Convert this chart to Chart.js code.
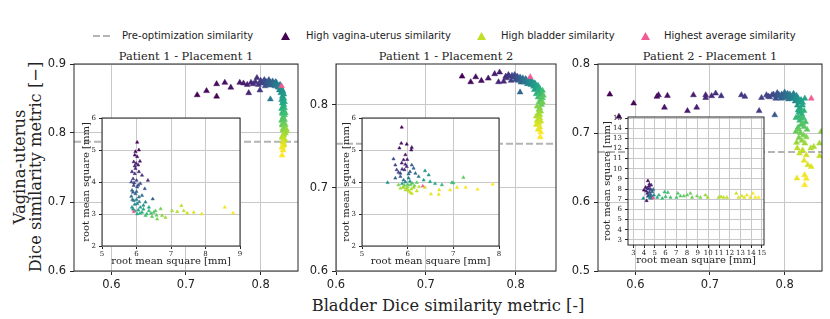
<!DOCTYPE html>
<html>
<head>
<meta charset="utf-8">
<title>Dice similarity</title>
<script src="https://cdn.jsdelivr.net/npm/chart.js@4.4.1/dist/chart.umd.min.js"></script>
<style>
  body { margin: 0; background: #fff; }
  #fig { position: relative; width: 830px; height: 319px; overflow: hidden; background: #fff; color: #222; }
  #fig canvas { position: absolute; }
  .lbl { position: absolute; white-space: nowrap; }
  .serif { font-family: "DejaVu Serif", serif; }
  .sans { font-family: "DejaVu Sans", sans-serif; }
  .title { font-size: 11.4px; line-height: 12px; top: 50px; transform: translateX(-50%); }
  .leg { font-size: 10px; line-height: 12px; top: 30px; }
  .legsym { position: absolute; }
</style>
</head>
<body>
<div id="fig">
  <svg class="legsym" style="left:93px;top:33px" width="20" height="6"><line x1="0" y1="3" x2="20" y2="3" stroke="#b4b4b4" stroke-width="2" stroke-dasharray="7,3"/></svg>
  <div class="lbl sans leg" style="left:122px">Pre-optimization similarity</div>
  <svg class="legsym" style="left:281px;top:32px" width="9" height="8"><polygon points="4.5,0 9,8 0,8" fill="#440154"/></svg>
  <div class="lbl sans leg" style="left:306px">High vagina-uterus similarity</div>
  <svg class="legsym" style="left:477px;top:32px" width="9" height="8"><polygon points="4.5,0 9,8 0,8" fill="#c0df25"/></svg>
  <div class="lbl sans leg" style="left:501px">High bladder similarity</div>
  <svg class="legsym" style="left:641px;top:32px" width="9" height="8"><polygon points="4.5,0 9,8 0,8" fill="#f25c95"/></svg>
  <div class="lbl sans leg" style="left:664px">Highest average similarity</div>

  <div class="lbl serif title" style="left:186px">Patient 1 - Placement 1</div>
  <div class="lbl serif title" style="left:446px">Patient 1 - Placement 2</div>
  <div class="lbl serif title" style="left:710px">Patient 2 - Placement 1</div>

  <div class="lbl serif" style="left:-92px;top:151px;width:240px;text-align:center;font-size:16.3px;line-height:16px;transform:rotate(-90deg)">Vagina-uterus<br>Dice similarity metric [−]</div>
  <div class="lbl serif" style="left:448px;top:297px;transform:translateX(-50%);font-size:16.3px;line-height:18px">Bladder Dice similarity metric [-]</div>
</div>
<script>
// ---- data ----
var p1XTicks = [0.6, 0.7, 0.8];
var p1YTicks = [0.6, 0.7, 0.8, 0.9];
var p1Pre = 0.7875;
var p1Best = [0.828, 0.868];
var p1Points = [
  [0.715,0.855],[0.741,0.853],[0.7275,0.861],[0.741,0.871],[0.752,0.873],[0.76,0.866],[0.772,0.873],
  [0.777,0.872],[0.782,0.870],[0.784,0.858],[0.787,0.873],[0.790,0.871],[0.795,0.880],[0.793,0.874],
  [0.797,0.870],[0.799,0.862],[0.800,0.876],[0.801,0.873],[0.803,0.872],[0.804,0.875],[0.805,0.877],
  [0.806,0.868],[0.807,0.872],[0.808,0.874],[0.809,0.870],[0.810,0.871],[0.811,0.877],[0.812,0.874],
  [0.813,0.873],[0.814,0.869],[0.815,0.872],[0.816,0.875],[0.817,0.870],[0.818,0.872],[0.819,0.868],
  [0.820,0.874],[0.821,0.873],[0.822,0.870],[0.813,0.849],[0.823,0.867],[0.824,0.866],[0.825,0.869],
  [0.826,0.870],[0.825,0.862],[0.827,0.865],[0.828,0.864],[0.827,0.858],[0.829,0.861],[0.830,0.860],
  [0.829,0.853],[0.831,0.856],[0.828,0.848],[0.831,0.850],[0.830,0.846],[0.829,0.843],[0.832,0.845],
  [0.831,0.841],[0.830,0.838],[0.828,0.835],[0.832,0.836],[0.831,0.832],[0.829,0.830],[0.829,0.828],
  [0.833,0.829],[0.832,0.826],[0.830,0.823],[0.830,0.821],[0.828,0.818],[0.832,0.819],[0.831,0.815],
  [0.829,0.813],[0.829,0.811],[0.833,0.812],[0.832,0.808],[0.830,0.806],[0.830,0.804],[0.834,0.806],
  [0.833,0.800],[0.835,0.803],[0.831,0.799],[0.831,0.797],[0.829,0.795],[0.829,0.793],[0.832,0.791],
  [0.832,0.790],[0.830,0.788],[0.830,0.786],[0.831,0.784],[0.831,0.782],[0.829,0.780],[0.829,0.779],
  [0.830,0.775],[0.8287,0.7676]
];

var p2XTicks = [0.6, 0.7, 0.8];
var p2YTicks = [0.6, 0.7, 0.8];
var p2Pre = 0.753;
var p2Best = [0.8163, 0.8333];
var p2Points = [
  [0.7404,0.8341],[0.750,0.8273],[0.7556,0.8333],[0.7619,0.8289],[0.7696,0.8317],[0.7767,0.837],
  [0.7822,0.839],[0.781,0.8273],[0.7867,0.828],[0.789,0.834],[0.790,0.832],[0.792,0.836],[0.793,0.834],
  [0.795,0.829],[0.796,0.835],[0.798,0.833],[0.799,0.836],[0.800,0.830],[0.801,0.833],[0.802,0.834],
  [0.803,0.829],[0.804,0.831],[0.805,0.833],[0.806,0.827],[0.805,0.815],[0.807,0.830],[0.808,0.832],
  [0.809,0.827],[0.810,0.828],[0.811,0.831],[0.812,0.830],[0.813,0.825],[0.814,0.826],[0.815,0.830],
  [0.816,0.829],[0.817,0.824],[0.818,0.828],[0.819,0.827],[0.820,0.822],[0.821,0.826],[0.822,0.825],
  [0.823,0.821],[0.821,0.818],[0.824,0.820],[0.825,0.823],[0.826,0.816],[0.827,0.819],[0.823,0.813],
  [0.827,0.812],[0.829,0.814],[0.830,0.817],[0.825,0.809],[0.828,0.806],[0.830,0.808],[0.831,0.811],
  [0.826,0.803],[0.829,0.800],[0.830,0.803],[0.827,0.796],[0.824,0.798],[0.826,0.794],[0.828,0.792],
  [0.825,0.789],[0.827,0.788],[0.823,0.786],[0.827,0.784],[0.824,0.781],[0.828,0.780],[0.826,0.778],
  [0.823,0.776],[0.827,0.773],[0.825,0.770],[0.828,0.767],[0.8274,0.761]
];

var p3XTicks = [0.6, 0.7, 0.8];
var p3YTicks = [0.5, 0.6, 0.7, 0.8];
var p3Pre = 0.6725;
var p3Best = [0.8356, 0.750];
var p3Points = [
  [0.5658,0.756],[0.578,0.7237],[0.5978,0.743],[0.6289,0.7527],[0.631,0.755],[0.643,0.754],[0.639,0.737],
  [0.6698,0.732],[0.6778,0.755],[0.6822,0.737],[0.6942,0.755],[0.6942,0.751],[0.7022,0.7536],[0.7076,0.7575],
  [0.715,0.7536],[0.742,0.755],[0.7467,0.7527],[0.7658,0.732],[0.769,0.751],[0.7756,0.755],[0.778,0.753],
  [0.780,0.752],[0.783,0.755],[0.785,0.756],[0.788,0.750],[0.789,0.754],[0.790,0.758],[0.7867,0.726],
  [0.792,0.756],[0.793,0.753],[0.795,0.750],[0.796,0.756],[0.797,0.753],[0.798,0.751],[0.800,0.759],
  [0.801,0.756],[0.802,0.752],[0.803,0.754],[0.804,0.757],[0.805,0.749],[0.806,0.753],[0.807,0.756],
  [0.808,0.750],[0.810,0.752],[0.811,0.755],[0.812,0.757],[0.813,0.750],[0.814,0.746],[0.815,0.752],
  [0.816,0.754],[0.817,0.748],[0.818,0.750],[0.819,0.745],[0.820,0.744],[0.817,0.740],[0.821,0.747],
  [0.822,0.748],[0.824,0.744],[0.827,0.750],[0.821,0.736],[0.824,0.740],[0.818,0.733],[0.819,0.730],
  [0.822,0.731],[0.823,0.727],[0.826,0.732],[0.815,0.722],[0.818,0.724],[0.820,0.718],[0.822,0.721],
  [0.825,0.722],[0.828,0.716],[0.822,0.712],[0.818,0.708],[0.824,0.714],[0.826,0.709],[0.830,0.705],
  [0.815,0.702],[0.819,0.705],[0.821,0.700],[0.825,0.697],[0.819,0.693],[0.829,0.694],[0.849,0.702],
  [0.823,0.689],[0.816,0.686],[0.827,0.685],[0.8467,0.685],[0.839,0.680],[0.835,0.678],[0.8169,0.678],
  [0.824,0.675],[0.8467,0.6667],[0.82,0.6705],[0.829,0.668],[0.831,0.6536],[0.8356,0.651],[0.826,0.660],
  [0.8164,0.6343],[0.8267,0.639],[0.829,0.634],[0.8267,0.6246]
];

// insets: [rms bladder, rms vagina-uterus, colour weight]
var i1XTicks = [5, 6, 7, 8, 9];
var i1YTicks = [2, 3, 4, 5, 6];
var i1Best = [5.92, 3.07];
var i1Points = [
  [6.02,5.24,0.0],[5.97,4.95,0.02],[6.07,5.0,0.02],[5.95,4.84,0.04],[6.02,4.79,0.05],[5.92,4.63,0.06],
  [5.99,4.58,0.07],[6.05,4.53,0.08],[5.97,4.42,0.1],[5.87,4.32,0.12],[5.95,4.26,0.13],[6.07,4.32,0.12],
  [6.16,4.21,0.14],[6.33,4.05,0.1],[5.85,4.0,0.2],[5.92,3.89,0.22],[6.02,3.84,0.25],[6.11,3.95,0.22],
  [6.24,3.79,0.28],[5.87,3.74,0.3],[5.97,3.63,0.33],[5.85,3.55,0.36],[6.07,3.53,0.37],[6.16,3.58,0.36],
  [6.47,3.47,0.3],[5.92,3.42,0.42],[6.02,3.32,0.45],[6.26,3.37,0.45],[5.87,3.21,0.5],[6.11,3.21,0.55],
  [6.36,3.21,0.58],[6.02,3.0,0.6],[6.16,3.05,0.62],[5.95,3.1,0.55],[6.36,3.1,0.66],[6.26,2.95,0.7],
  [6.5,3.05,0.72],[6.55,3.1,0.74],[6.6,2.84,0.8],[6.70,3.16,0.78],[6.74,2.95,0.82],[6.84,2.89,0.85],
  [7.03,3.1,0.86],[7.18,3.07,0.88],[7.3,3.26,0.9],[7.37,3.1,0.9],[7.47,3.03,0.92],[7.66,3.05,0.94],
  [7.89,3.0,0.96],[8.56,3.21,0.98],[8.8,3.03,1.0],
  [5.9,4.1,0.16],[6.0,4.05,0.18],[5.93,3.97,0.2],[6.05,3.9,0.24],[5.9,3.68,0.3],[6.0,3.7,0.32],
  [5.88,3.45,0.4],[6.0,3.45,0.42],[5.95,3.3,0.46],[6.08,3.38,0.44],[5.9,3.15,0.52],[6.05,3.12,0.58],
  [6.2,3.15,0.6],[6.1,3.02,0.64],[6.3,3.0,0.68],[6.42,3.02,0.7],[6.45,2.92,0.74],[6.58,2.96,0.76],
  [6.2,3.27,0.5],[5.95,4.5,0.09],[6.1,4.65,0.06]
];

var i2XTicks = [5, 6, 7, 8];
var i2YTicks = [2, 3, 4, 5, 6];
var i2Best = [6.33, 3.87];
var i2Points = [
  [5.87,5.71,0.0],[5.86,5.21,0.02],[5.98,5.18,0.03],[5.82,5.06,0.04],[6.08,5.0,0.04],[6.09,5.08,0.03],
  [5.95,4.85,0.05],[5.91,4.69,0.07],[5.99,4.70,0.06],[5.87,4.59,0.08],[5.98,4.48,0.1],[5.93,4.38,0.12],
  [5.69,4.72,0.25],[5.73,4.53,0.22],[5.76,4.38,0.2],[5.84,4.27,0.18],[6.09,4.53,0.3],[6.13,4.43,0.32],
  [6.05,4.32,0.28],[6.17,4.27,0.33],[6.24,4.17,0.38],[5.73,4.12,0.3],[5.84,4.17,0.28],[5.91,4.06,0.4],
  [6.02,4.12,0.42],[5.56,3.98,0.5],[6.38,4.35,0.5],[6.46,4.22,0.52],[6.35,4.06,0.55],[6.49,4.01,0.6],
  [6.6,3.95,0.62],[6.75,3.91,0.65],[6.97,3.98,0.68],[7.0,3.97,0.7],[7.22,4.14,0.75],[5.80,3.91,0.8],
  [5.91,3.85,0.82],[5.98,3.8,0.85],[6.06,3.91,0.78],[6.13,3.83,0.86],[6.2,3.98,0.75],[5.84,3.8,0.88],
  [6.02,3.73,0.88],[6.09,3.64,0.9],[6.2,3.72,0.92],[6.38,3.83,0.94],[6.51,3.62,0.96],[6.68,3.61,0.97],
  [6.69,3.75,0.96],[6.93,3.75,0.98],[7.08,3.83,0.97],[7.27,3.83,0.99],[7.53,3.77,1.0],[7.86,3.93,1.0],
  [5.95,4.0,0.45],[6.05,4.02,0.5],[5.88,3.95,0.55],[6.0,3.92,0.7],[6.1,3.96,0.72],[5.93,3.9,0.8],
  [6.0,3.85,0.84],[6.08,3.78,0.88],[5.95,3.75,0.9],[6.15,3.88,0.8],[5.9,3.83,0.86],[6.05,3.68,0.92],
  [6.25,3.85,0.9],[5.88,4.4,0.15],[5.95,4.55,0.1],[6.02,4.25,0.35],[5.8,4.3,0.22]
];

var i3XTicks = [3, 4, 5, 6, 7, 8, 9, 10, 11, 12, 13, 14, 15];
var i3YTicks = [3, 4, 5, 6, 7, 8, 9, 10, 11, 12, 13, 14, 15];
var i3Best = [4.86, 7.12];
var i3Points = [
  [4.36,8.82,0.0],[3.99,7.90,0.02],[4.15,8.17,0.03],[4.46,8.30,0.05],[4.30,7.58,0.08],[4.24,6.86,0.05],
  [4.55,8.03,0.1],[4.67,8.39,0.12],[4.61,7.25,0.3],[4.77,7.74,0.32],[4.46,7.41,0.28],[4.86,7.97,0.35],
  [3.93,7.09,0.5],[4.67,7.09,0.45],[4.92,7.41,0.48],[5.23,7.18,0.62],[5.39,7.41,0.64],[5.70,7.09,0.66],
  [6.01,7.25,0.68],[6.22,7.67,0.7],[5.91,7.71,0.68],[6.47,7.18,0.7],[7.03,7.18,0.72],[7.16,7.58,0.73],
  [7.40,7.32,0.74],[7.71,7.32,0.75],[8.02,7.41,0.76],[8.33,7.58,0.77],[8.49,7.18,0.78],[8.95,7.32,0.8],
  [9.26,7.18,0.8],[9.73,7.41,0.84],[9.95,7.18,0.85],[10.97,7.18,0.88],[11.19,7.25,0.89],[11.43,7.18,0.9],
  [11.74,7.18,0.91],[12.61,7.58,0.93],[12.83,7.18,0.94],[13.14,7.32,0.95],[13.36,7.18,0.96],[13.6,7.41,0.97],
  [13.91,7.18,0.98],[14.16,7.58,0.99],[14.38,7.18,0.99],[14.69,7.18,1.0],
  [4.2,7.8,0.1],[4.4,8.0,0.15],[4.5,7.7,0.2],[4.35,7.3,0.25],[4.6,7.5,0.35],[4.7,7.9,0.3],
  [4.5,8.5,0.08],[4.3,8.1,0.12],[4.75,7.25,0.4],[4.55,7.15,0.45]
];

// ---- drawing ----
var serif = '"DejaVu Serif", serif';
var sans = '"DejaVu Sans", sans-serif';
var bestColor = '#f25c95';
var viridisStops = ['#440154','#482475','#414487','#355f8d','#2a788e','#21918c','#22a884','#44bf70','#7ad151','#bddf26','#fde725'];

function viridis(t) {
    t = Math.max(0, Math.min(1, t));
    var p = t * 10, i = Math.min(9, Math.floor(p)), f = p - i;
    var a = viridisStops[i], b = viridisStops[i + 1];
    var rgb = [1, 3, 5].map(function (k) {
        var ca = parseInt(a.substr(k, 2), 16), cb = parseInt(b.substr(k, 2), 16);
        return Math.round(ca + (cb - ca) * f);
    });
    return 'rgb(' + rgb.join(',') + ')';
}

var framePlugin = {
    id: 'frame',
    beforeDraw: function (chart, args, opts) {
        if (!opts.fill) return;
        var a = chart.chartArea, ctx = chart.ctx;
        ctx.save();
        ctx.fillStyle = '#fff';
        ctx.fillRect(a.left, a.top, a.right - a.left, a.bottom - a.top);
        ctx.restore();
    },
    afterDraw: function (chart) {
        var a = chart.chartArea, ctx = chart.ctx;
        ctx.save();
        ctx.strokeStyle = '#262626';
        ctx.lineWidth = 1;
        ctx.strokeRect(a.left, a.top, a.right - a.left, a.bottom - a.top);
        ctx.restore();
    }
};

function makeAxis(c, dir) {
    var inset = c.inset;
    var ticks = dir === 'x' ? c.xTicks : c.yTicks;
    var axis = {
        type: 'linear',
        position: dir === 'x' ? 'bottom' : 'left',
        min: dir === 'x' ? c.xMin : c.yMin,
        max: dir === 'x' ? c.xMax : c.yMax,
        afterBuildTicks: function (s) {
            s.ticks = ticks.map(function (v) { return { value: v }; });
        },
        afterFit: function (s) {
            if (dir === 'x') s.height = c.xh; else s.width = c.yw;
            s.paddingLeft = 0; s.paddingRight = 0; s.paddingTop = 0; s.paddingBottom = 0;
        },
        grid: { color: '#c8c8c8', lineWidth: 1, drawTicks: true, tickLength: inset ? 3 : 4, tickColor: '#262626', tickWidth: 1 },
        border: { display: false },
        ticks: {
            font: inset ? { family: serif, size: 7 } : { family: sans, size: 11.5 },
            color: '#222',
            padding: inset ? (dir === 'x' ? 1 : 3) : (dir === 'x' ? 3 : 4),
            maxRotation: 0,
            autoSkip: false,
            callback: function (v) { return inset ? String(v) : v.toFixed(1); }
        },
        title: { display: false }
    };
    if (inset) {
        axis.title = {
            display: true,
            text: 'root mean square [mm]',
            font: { family: serif, size: 10 },
            color: '#222',
            padding: dir === 'x' ? { top: 0, bottom: 3 } : { top: c.yTitlePad, bottom: 0 }
        };
    }
    return axis;
}

function makePanel(c) {
    var canvas = document.createElement('canvas');
    canvas.width = c.w; canvas.height = c.h;
    canvas.style.left = c.left + 'px'; canvas.style.top = c.top + 'px';
    canvas.style.width = c.w + 'px'; canvas.style.height = c.h + 'px';
    document.getElementById('fig').appendChild(canvas);

    var pts = c.points.map(function (p) { return { x: p[0], y: p[1] }; });
    var colors = c.points.map(function (p, i) {
        return viridis(p.length > 2 ? p[2] : i / (c.points.length - 1));
    });
    var r = c.inset ? 1.9 : 3.4;
    var datasets = [
        { data: [{ x: c.best[0], y: c.best[1] }], pointStyle: 'triangle', pointRadius: r,
          pointBackgroundColor: bestColor, pointBorderColor: bestColor, pointBorderWidth: 0.5, clip: 0 },
        { data: pts, pointStyle: 'triangle', pointRadius: r,
          pointBackgroundColor: colors, pointBorderColor: colors, pointBorderWidth: 0.5, clip: 0 }
    ];
    if (c.pre !== undefined) {
        datasets.push({ data: [{ x: c.xMin, y: c.pre }, { x: c.xMax, y: c.pre }], showLine: true,
          borderColor: '#b4b4b4', borderWidth: 2, borderDash: [7, 3], pointRadius: 0, clip: 0 });
    }

    return new Chart(canvas.getContext('2d'), {
        type: 'scatter',
        data: { datasets: datasets },
        options: {
            responsive: false,
            animation: false,
            events: [],
            layout: { autoPadding: false, padding: { left: 0, top: c.padT, right: c.padR, bottom: 0 } },
            scales: { x: makeAxis(c, 'x'), y: makeAxis(c, 'y') },
            plugins: { legend: { display: false }, tooltip: { enabled: false }, frame: { fill: !!c.inset } }
        },
        plugins: [framePlugin]
    });
}

var mainBox = { top: 54, h: 243, padT: 10, padR: 6, yw: 34, xh: 26 };
function mainPanel(left, w, xMin, xMax, yMin, yMax, xTicks, yTicks, points, best, pre) {
    return Object.assign({ left: left, w: w, xMin: xMin, xMax: xMax, yMin: yMin, yMax: yMax,
        xTicks: xTicks, yTicks: yTicks, points: points, best: best, pre: pre }, mainBox);
}
function insetPanel(left, top, w, xMin, xMax, yMin, yMax, xTicks, yTicks, points, best, yTitlePad) {
    return { inset: true, left: left, top: top, w: w, h: 158, padT: 6, padR: 5, yw: 27, xh: 24,
        xMin: xMin, xMax: xMax, yMin: yMin, yMax: yMax, xTicks: xTicks, yTicks: yTicks,
        points: points, best: best, yTitlePad: yTitlePad };
}

makePanel(mainPanel(40, 264, 0.55, 0.85, 0.6, 0.9, p1XTicks, p1YTicks, p1Points, p1Best, p1Pre));
makePanel(mainPanel(302, 260, 0.6, 0.845, 0.6, 0.849, p2XTicks, p2YTicks, p2Points, p2Best, p2Pre));
makePanel(mainPanel(564, 264, 0.55, 0.85, 0.5, 0.8, p3XTicks, p3YTicks, p3Points, p3Best, p3Pre));
makePanel(insetPanel(75, 112, 170, 5, 9, 2, 6, i1XTicks, i1YTicks, i1Points, i1Best, 5));
makePanel(insetPanel(335, 112, 169, 5, 8, 2, 6, i2XTicks, i2YTicks, i2Points, i2Best, 5));
makePanel(insetPanel(601, 111, 168, 2.5, 15.2, 2.5, 15.1, i3XTicks, i3YTicks, i3Points, i3Best, 0));
</script>
</body>
</html>
